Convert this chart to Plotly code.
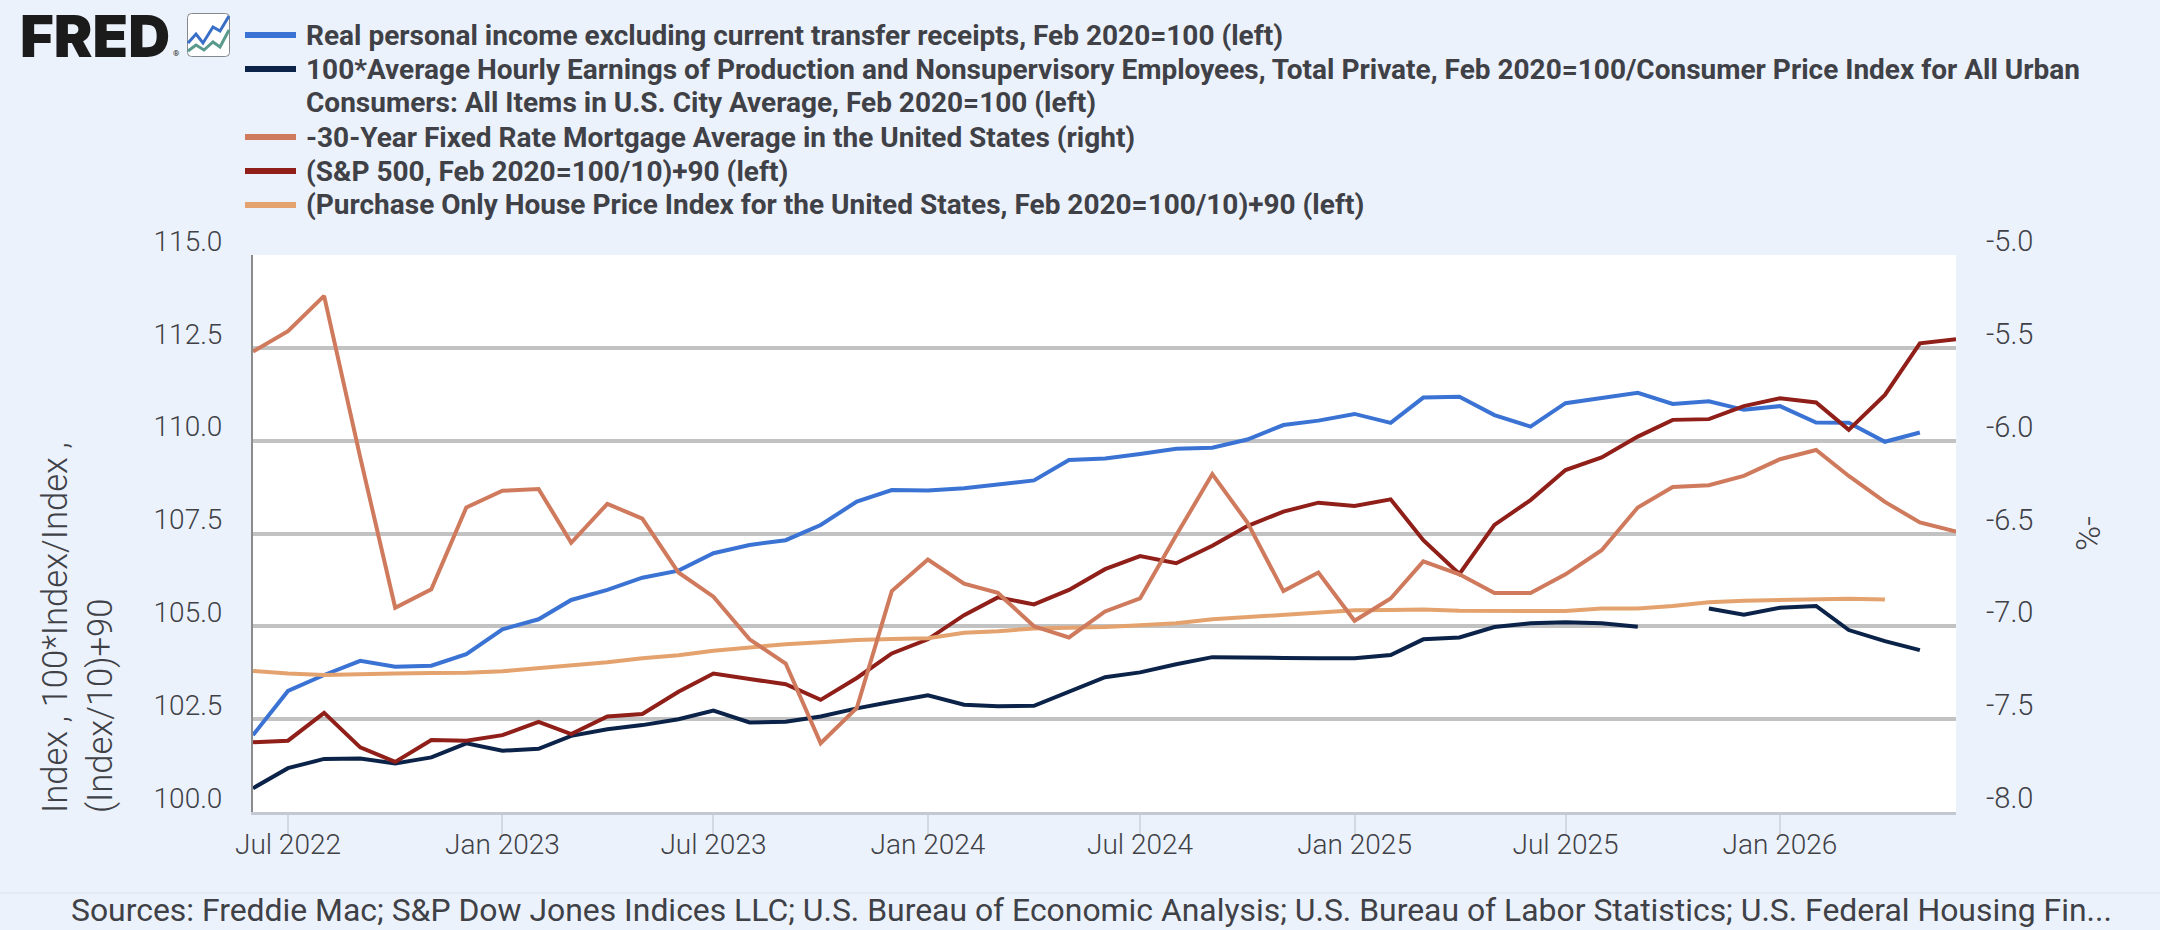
import pandas as pd
import plotly.graph_objects as go

# Monthly observations
months = pd.date_range("2022-06-01", "2026-06-01", freq="MS")

real_income = [102.07, 103.26, 103.69, 104.07, 103.91, 103.94, 104.25, 104.92, 105.19, 105.71,
               105.98, 106.31, 106.50, 106.97, 107.19, 107.32, 107.73, 108.36, 108.67, 108.66,
               108.72, 108.81, 108.93, 109.48, 109.52, 109.64, 109.78, 109.81, 110.03, 110.42,
               110.54, 110.72, 110.48, 111.16, 111.18, 110.69, 110.38, 111.01, 111.16, 111.29,
               110.99, 111.06, 110.83, 110.93, 110.49, 110.48, 109.97, 110.22, None]
real_earnings = [100.64, 101.18, 101.43, 101.44, 101.31, 101.47, 101.85, 101.65, 101.70, 102.05,
                 102.23, 102.34, 102.50, 102.73, 102.41, 102.43, 102.57, 102.79, 102.97, 103.14,
                 102.89, 102.85, 102.86, 103.24, 103.63, 103.76, 103.98, 104.17, 104.17, 104.15,
                 104.14, 104.14, 104.23, 104.65, 104.70, 104.98, 105.08, 105.11, 105.08, 104.99,
                 None, 105.48, 105.31, 105.50, 105.55, 104.90, 104.60, 104.36, None]
mortgage_neg = [-5.52, -5.41, -5.22, -6.09, -6.90, -6.80, -6.36, -6.27, -6.26, -6.55,
                -6.34, -6.42, -6.71, -6.84, -7.07, -7.20, -7.63, -7.44, -6.81, -6.64,
                -6.77, -6.82, -7.00, -7.06, -6.92, -6.85, -6.51, -6.18, -6.44, -6.81,
                -6.71, -6.97, -6.85, -6.65, -6.72, -6.82, -6.82, -6.72, -6.59, -6.36,
                -6.25, -6.24, -6.19, -6.10, -6.05, -6.19, -6.33, -6.44, -6.49]
sp500 = [101.88, 101.92, 102.67, 101.74, 101.35, 101.94, 101.92, 102.07, 102.43, 102.10,
         102.57, 102.64, 103.24, 103.73, 103.58, 103.44, 103.02, 103.61, 104.27, 104.65,
         105.30, 105.78, 105.59, 105.98, 106.54, 106.89, 106.70, 107.17, 107.70, 108.09,
         108.33, 108.24, 108.42, 107.32, 106.41, 107.73, 108.40, 109.21, 109.55, 110.11,
         110.56, 110.58, 110.93, 111.14, 111.03, 110.29, 111.23, 112.62, 112.73]
house_prices = [103.80, 103.73, 103.69, 103.72, 103.73, 103.74, 103.75, 103.79, 103.87, 103.94,
                104.03, 104.14, 104.22, 104.34, 104.43, 104.52, 104.57, 104.63, 104.66, 104.68,
                104.83, 104.87, 104.94, 104.95, 104.98, 105.03, 105.08, 105.19, 105.25, 105.30,
                105.38, 105.43, 105.44, 105.45, 105.42, 105.42, 105.41, 105.41, 105.48, 105.48,
                105.55, 105.65, 105.69, 105.71, 105.71, 105.74, 105.72, None, None]

names = [
    "Real personal income excluding current transfer receipts, Feb 2020=100 (left)",
    "100*Average Hourly Earnings of Production and Nonsupervisory Employees, Total Private, "
    "Feb 2020=100/Consumer Price Index for All Urban<br>Consumers: All Items in U.S. City Average, "
    "Feb 2020=100 (left)",
    "-30-Year Fixed Rate Mortgage Average in the United States (right)",
    "(S&P 500, Feb 2020=100/10)+90 (left)",
    "(Purchase Only House Price Index for the United States, Feb 2020=100/10)+90 (left)",
]
colors = ["#3a73d3", "#0c2349", "#cf7a5c", "#8f1f18", "#e4a36e"]
axes = ["y", "y", "y2", "y", "y"]
values = [real_income, real_earnings, mortgage_neg, sp500, house_prices]

left_ticks = [100, 102.5, 105, 107.5, 110, 112.5, 115]
right_ticks = [-8, -7.5, -7, -6.5, -6, -5.5, -5]
right_labels = ["-8.0", "-7.5", "-7.0", "-6.5", "-6.0", "-5.5", "-5.0"]

BG = "#ebf2fb"
INK = "#3f4147"
GRID = "#c2c2c2"
FONT = "Roboto"
W, H = 2160, 930
L, R, T, B = 253, 1956, 255, 812
ROW = 34          # legend row pitch
LEGEND_TOP = 35   # centre of the first legend row


def px(x):
    return (x - L) / (R - L)


def py(y):
    return (B - y) / (B - T)


fig = go.Figure()
for name, color, axis, ys in zip(names, colors, axes, values):
    fig.add_trace(go.Scatter(x=months, y=ys, name=name.replace("<br>", " "), yaxis=axis, mode="lines",
                             line=dict(color=color, width=4), connectgaps=False, showlegend=False))

fig.update_layout(
    width=W, height=H,
    margin=dict(l=L, r=W - R, t=T, b=H - B, autoexpand=False),
    paper_bgcolor=BG, plot_bgcolor="white",
    font=dict(family=FONT, color=INK, size=25),
    showlegend=False,
    xaxis=dict(range=["2022-06-01", "2026-06-01"], tick0="2022-07-01", dtick="M6",
               tickformat="%b %Y", showgrid=False, zeroline=False,
               ticks="outside", ticklen=20, tickwidth=1.5, tickcolor="#d3d8e4",
               ticklabelstandoff=-15,
               showline=True, linecolor="#c4c8d2", linewidth=3,
               tickfont=dict(family=FONT, size=28, color=INK, weight=300)),
    yaxis=dict(range=[100, 115], tickvals=left_ticks, tickformat=".1f",
               gridcolor=GRID, gridwidth=3.5, zeroline=False,
               showline=True, linecolor="#8c8c8c", linewidth=2,
               ticks="", ticklabelstandoff=23, ticklabelshift=-14,
               tickfont=dict(family=FONT, size=28, color=INK, weight=300)),
    yaxis2=dict(range=[-8, -5], overlaying="y", side="right", tickvals=right_ticks,
                ticktext=right_labels, showgrid=False, zeroline=False, showline=False,
                ticks="", ticklabelstandoff=29, ticklabelshift=-14,
                tickfont=dict(family=FONT, size=29, color=INK, weight=300),
                title=dict(text="%-", standoff=43, font=dict(family=FONT, size=34, color=INK, weight=300))),
)


def poly(points):
    return " ".join(f"{c} {px(a)},{py(b)}" for c, (a, b) in zip("M" + "L" * (len(points) - 1), points))


def rounded_box(x0, y0, x1, y1, r):
    return (f"M {px(x0 + r)},{py(y0)} L {px(x1 - r)},{py(y0)} Q {px(x1)},{py(y0)} {px(x1)},{py(y0 + r)} "
            f"L {px(x1)},{py(y1 - r)} Q {px(x1)},{py(y1)} {px(x1 - r)},{py(y1)} "
            f"L {px(x0 + r)},{py(y1)} Q {px(x0)},{py(y1)} {px(x0)},{py(y1 - r)} "
            f"L {px(x0)},{py(y0 + r)} Q {px(x0)},{py(y0)} {px(x0 + r)},{py(y0)} Z")


shapes = [
    # Footer rule
    dict(type="line", xref="paper", yref="paper", x0=px(0), x1=px(W), y0=py(893), y1=py(893),
         line=dict(color="#dde3ee", width=1)),
    # Logo badge with its two small lines
    dict(type="path", xref="paper", yref="paper", path=rounded_box(187.5, 13.5, 229.5, 56.5, 4),
         fillcolor="white", line=dict(color="#85898e", width=1)),
    dict(type="path", xref="paper", yref="paper",
         path=poly([(188, 43), (196, 34), (203, 43), (213, 27), (220, 31), (229, 16)]),
         line=dict(color="#3a6fc8", width=3)),
    dict(type="path", xref="paper", yref="paper",
         path=poly([(188, 51), (196, 45), (204, 50), (213, 42), (220, 47), (229, 30)]),
         line=dict(color="#5a9a8c", width=3)),
]

# Legend rows: key swatch plus bold label, the second entry wraps onto two rows
row = 0
for name, color in zip(names, colors):
    y_row = LEGEND_TOP + row * ROW
    shapes.append(dict(type="line", xref="paper", yref="paper", x0=px(245), x1=px(296),
                       y0=py(y_row), y1=py(y_row), line=dict(color=color, width=6)))
    for part in name.split("<br>"):
        fig.add_annotation(text=part, xref="paper", yref="paper", x=px(303.5), y=py(LEGEND_TOP + row * ROW),
                           xanchor="left", yanchor="middle", showarrow=False,
                           font=dict(family=FONT, size=28, color=INK, weight=700))
        row += 1
fig.update_layout(shapes=shapes)

fig.add_annotation(text="FRED", xref="paper", yref="paper", x=px(18), y=py(36.5), xanchor="left",
                   yanchor="middle", showarrow=False,
                   font=dict(family="Inter", size=58, color="#1b1b1b", weight=900))
fig.add_annotation(text="®", xref="paper", yref="paper", x=px(176), y=py(53), xanchor="center",
                   yanchor="middle", showarrow=False,
                   font=dict(family=FONT, size=8, color="#1b1b1b"))
fig.add_annotation(text="Index , 100*Index/Index ,<br>(Index/10)+90", xref="paper", yref="paper",
                   x=px(77.5), y=py(815), xanchor="center", yanchor="bottom", textangle=-90, align="left",
                   showarrow=False, font=dict(family=FONT, size=34.6, color=INK, weight=300))
fig.add_annotation(text="Sources: Freddie Mac; S&P Dow Jones Indices LLC; U.S. Bureau of Economic Analysis; "
                        "U.S. Bureau of Labor Statistics; U.S. Federal Housing Fin...",
                   xref="paper", yref="paper", x=px(69), y=py(910), xanchor="left", yanchor="middle",
                   showarrow=False, font=dict(family=FONT, size=31.9, color=INK))

fig.write_html("out.html")
